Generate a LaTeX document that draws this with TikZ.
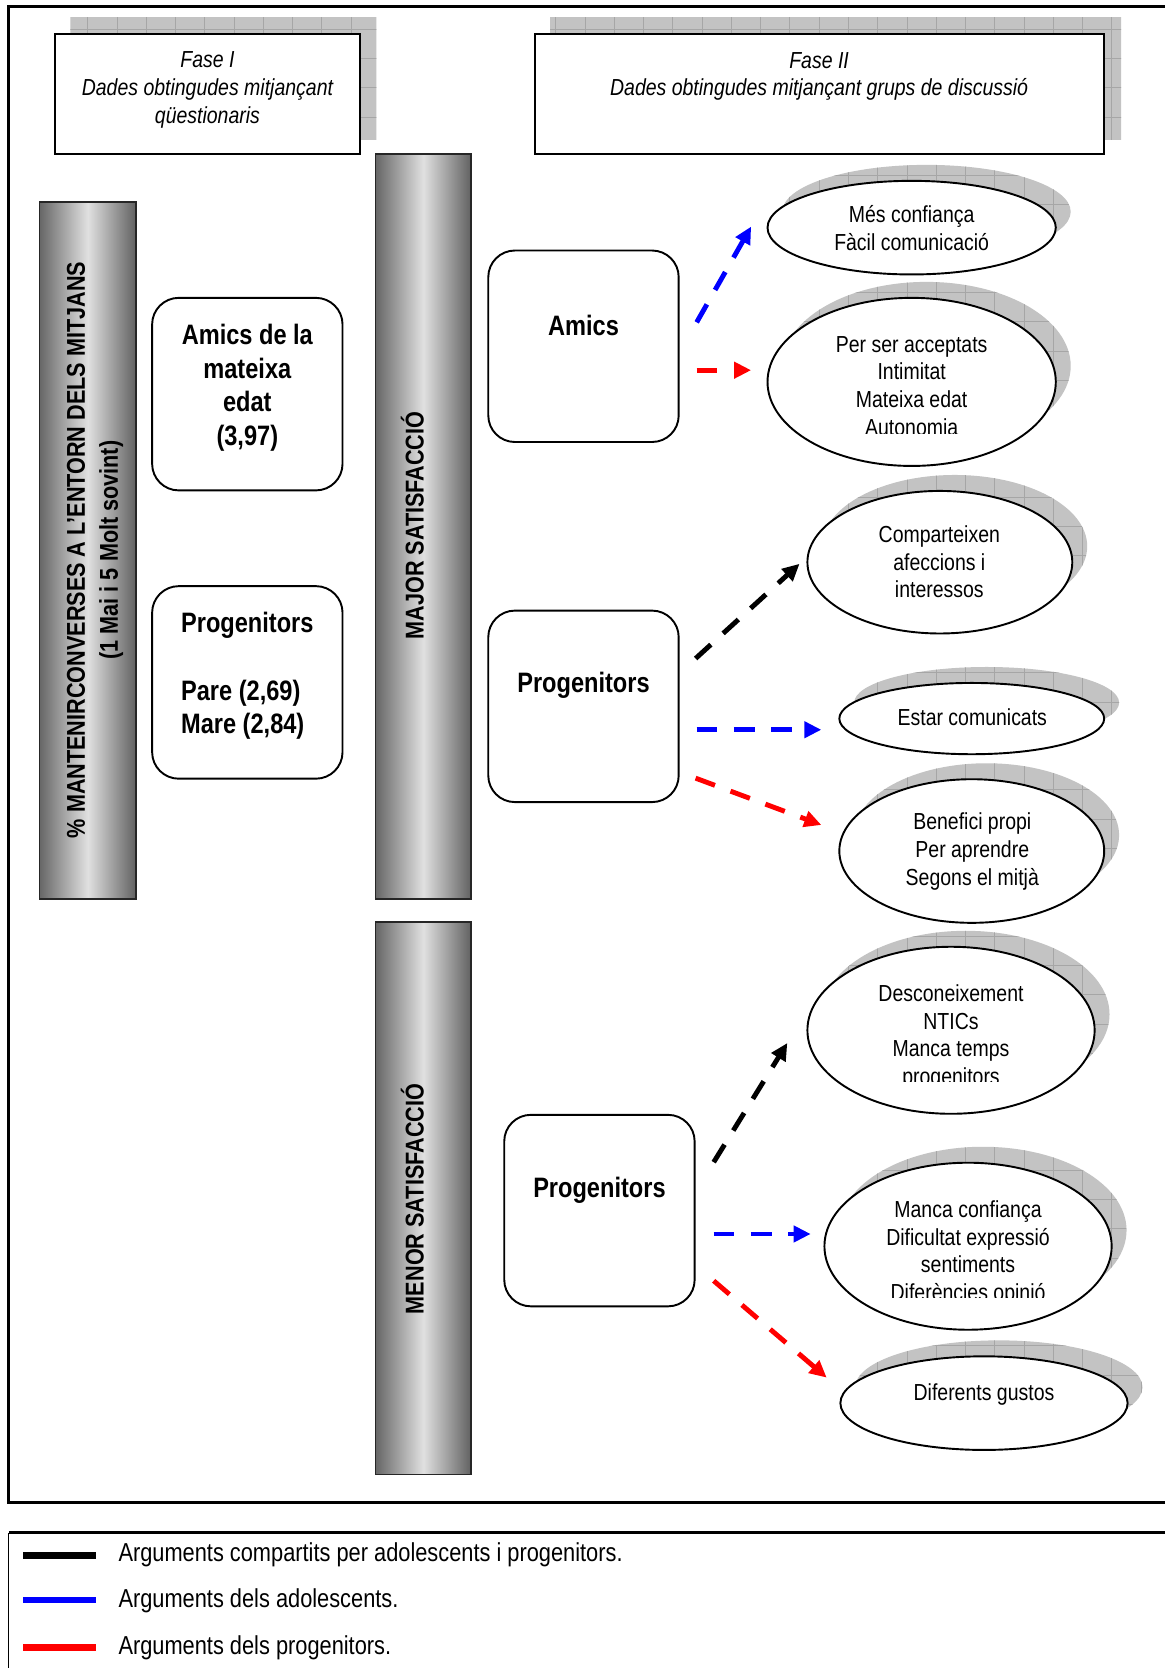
\documentclass[tikz,border=0pt]{standalone}
\usepackage{fontspec}
\setmainfont{Liberation Sans}[FakeStretch=0.84]
\usetikzlibrary{arrows.meta,calc,shapes.geometric,backgrounds}

% gray drop shadow with a faint grid texture, clipped to the given path
\newcommand\dropshadow[1]{%
  \begin{scope}
    \clip #1;
    \fill[gray!47] (0,1570) rectangle (1100,0);
    \draw[gray!70, line width=0.35pt, step=13.75pt] (0,1570) grid (1100,0);
  \end{scope}}

\tikzset{
  frameline/.style={line width=1.4pt},
  hdrbox/.style={draw, line width=0.9pt, fill=white, inner sep=0pt},
  rbox/.style={draw, line width=0.9pt, fill=white, rounded corners=12.5pt,
    inner sep=0pt, minimum width=89.5pt, minimum height=90pt},
  bar/.style={draw=black!85, line width=0.8pt, inner sep=0pt,
    left color=black!60, right color=black!62, middle color=black!12},
  ell/.style={ellipse, draw, line width=0.9pt, fill=white, inner sep=0pt},
  txt/.style={font=\fontsize{10.9pt}{13pt}\selectfont, align=center, inner sep=0pt,
    yshift=-2pt, execute at begin node=\strut, execute at end node=\strut},
  hdrtxt/.style={txt, font=\fontsize{10.9pt}{13pt}\selectfont\itshape},
  boldtxt/.style={txt, font=\fontsize{13.2pt}{15.8pt}\selectfont\bfseries},
  bartxt/.style={align=center, inner sep=0pt, rotate=90,
    execute at begin node=\strut, execute at end node=\strut,
    font=\fontsize{12.1pt}{15.5pt}\selectfont\bfseries},
  legtxt/.style={font=\fontsize{12.2pt}{14pt}\selectfont, inner sep=0pt, anchor=west},
  legline/.style={line width=3.2pt},
  arr/.style={line width=2.3pt, dash pattern=on 9.7pt off 7.8pt,
    -{Triangle[length=8pt,width=7.5pt]}},
}

\begin{document}
\begin{tikzpicture}[x=0.5pt, y=-0.5pt]
\useasboundingbox (0,0) rectangle (1095,1568);

% outer frames
\draw[frameline] (1097,6) -- (8,6) -- (8,1412) -- (1097,1412);
\draw[frameline] (1097,1441) -- (8,1441);
\draw[line width=0.7pt] (8,1441) -- (8,1570);

% phase headers
\node[hdrbox, minimum width=143pt, minimum height=56.5pt] (fase1) at (195,88.5) {};
\node[hdrbox, minimum width=267.5pt, minimum height=56.5pt] (fase2) at (770.5,88.5) {};
\node[hdrtxt] (fase1t) at (195,82.3) {Fase I\\Dades obtingudes mitjançant\\qüestionaris};
\node[hdrtxt] (fase2t) at (770,69.5) {Fase II\\Dades obtingudes mitjançant grups de discussió};

% shaded bars
\node[bar, minimum width=45.5pt, minimum height=327.5pt] (barL) at (82.5,517.5) {};
\node[bar, minimum width=45pt, minimum height=350pt] (barMaj) at (398,495) {};
\node[bar, minimum width=45pt, minimum height=259.5pt] (barMen) at (398,1126.5) {};
\node[bartxt] (barLt) at (91.5,517) {\% MANTENIRCONVERSES A L’ENTORN DELS MITJANS\\(1 Mai i 5 Molt sovint)};
\node[bartxt] (barMajt) at (392,494) {MAJOR SATISFACCIÓ};
\node[bartxt] (barMent) at (392,1127) {MENOR SATISFACCIÓ};

% rounded boxes
\node[rbox, minimum height=90.5pt] (amicsL) at (232.5,370.5) {};
\node[rbox, minimum height=90.5pt] (progL) at (232.5,641.5) {};
\node[rbox] (amicsR) at (548.5,325.5) {};
\node[rbox] (progR) at (548.5,664) {};
\node[rbox] (progM) at (563.5,1138) {};
\node[boldtxt] (amicsLt) at (232.5,362.5) {Amics de la\\mateixa\\edat\\(3,97)};
\node[boldtxt, align=left] (progLt) at (232.5,633.5) {Progenitors\\\strut\\Pare (2,69)\\Mare (2,84)};
\node[boldtxt] (amicsRt) at (548.5,305) {Amics};
\node[boldtxt] (progRt) at (548.5,641) {Progenitors};
\node[boldtxt] (progMt) at (563.5,1115) {Progenitors};

% ellipses
\node[ell, minimum width=135.5pt, minimum height=44pt] (e1) at (857,214) {};
\node[ell, minimum width=135.5pt, minimum height=79pt] (e2) at (857,359) {};
\node[ell, minimum width=124.5pt, minimum height=67pt] (e3) at (883.5,528.5) {};
\node[ell, minimum width=124.5pt, minimum height=33.5pt] (e4) at (913.5,675.5) {};
\node[ell, minimum width=124.5pt, minimum height=67.5pt] (e5) at (913.5,800) {};
\node[ell, minimum width=135pt, minimum height=78.5pt] (e6) at (894,968.5) {};
\node[ell, minimum width=135pt, minimum height=78.5pt] (e7) at (910,1171.5) {};
\node[ell, minimum width=135pt, minimum height=44pt] (e8) at (925,1319) {};

\node[txt] (e1t) at (857,214) {Més confiança\\Fàcil comunicació};
\begin{scope}
  \clip (725,285) rectangle (990,407.7);
  \node[txt] (e2t) at (857,362.5) {Per ser acceptats\\Intimitat\\Mateixa edat\\Autonomia};
\end{scope}
\node[txt] (e3t) at (883,528) {Comparteixen\\afeccions i\\interessos};
\node[txt] (e4t) at (914,673) {Estar comunicats};
\node[txt] (e5t) at (914,798) {Benefici propi\\Per aprendre\\Segons el mitjà};
\begin{scope}
  \clip (765,900) rectangle (1025,1017);
  \node[txt] (e6t) at (894,972.5) {Desconeixement\\NTICs\\Manca temps\\progenitors};
\end{scope}
\begin{scope}
  \clip (780,1100) rectangle (1040,1220);
  \node[txt] (e7t) at (910,1175.5) {Manca confiança\\Dificultat expressió\\sentiments\\Diferències opinió};
\end{scope}
\node[txt] (e8t) at (925,1307) {Diferents gustos};

% shadows behind headers and ellipses
\begin{scope}[on background layer]
  \fill[white] (0,0) rectangle (1095,1568);
  \dropshadow{($(fase1.south west)+(15,-15)$) rectangle ($(fase1.north east)+(15,-15)$)}
  \dropshadow{($(fase2.south west)+(15,-15)$) rectangle ($(fase2.north east)+(15,-15)$)}
  \dropshadow{($(e1)+(14,-15)$) ellipse [x radius=67.75pt, y radius=22pt]}
  \dropshadow{($(e2)+(14,-15)$) ellipse [x radius=67.75pt, y radius=39.5pt]}
  \dropshadow{($(e3)+(14,-15)$) ellipse [x radius=62.25pt, y radius=33.5pt]}
  \dropshadow{($(e4)+(14,-15)$) ellipse [x radius=62.25pt, y radius=16.75pt]}
  \dropshadow{($(e5)+(14,-15)$) ellipse [x radius=62.25pt, y radius=33.75pt]}
  \dropshadow{($(e6)+(14,-15)$) ellipse [x radius=67.5pt, y radius=39.25pt]}
  \dropshadow{($(e7)+(14,-15)$) ellipse [x radius=67.5pt, y radius=39.25pt]}
  \dropshadow{($(e8)+(14,-15)$) ellipse [x radius=67.5pt, y radius=22pt]}
\end{scope}

% connectors
\draw[arr, blue] ($(amicsR.east)+(16,-22.5)$) -- ($(e1.west)+(-14.5,-1)$);
\draw[arr, red]  ($(amicsR.east)+(16,22.5)$) -- ($(e2.west)+(-14.5,-11)$);
\draw[arr, black] ($(progR.east)+(15,-45)$) -- ($(e3.west)+(-6.5,1.5)$);
\draw[arr, blue] ($(progR.east)+(16,22)$) -- ($(e4.west)+(-16,10.5)$);
\draw[arr, red]  ($(progR.east)+(15,67.5)$) -- ($(e5.west)+(-16,-24.5)$);
\draw[arr, black] ($(progM.east)+(17,-45.5)$) -- ($(e6.west)+(-18,12)$);
\draw[arr, blue] ($(progM.east)+(17,22)$) -- ($(e7.west)+(-12,-11.5)$);
\draw[arr, red]  ($(progM.east)+(17,66)$) -- ($(e8.west)+(-12,-24)$);

% legend
\draw[legline, black] (22,1462) -- (90,1462);
\draw[legline, blue] (22,1504) -- (90,1504);
\draw[legline, red] (22,1549) -- (90,1549);
\node[legtxt] (leg1) at (111,1462) {Arguments compartits per adolescents i progenitors.};
\node[legtxt] (leg2) at (111,1505) {Arguments dels adolescents.};
\node[legtxt] (leg3) at (111,1549) {Arguments dels progenitors.};
\end{tikzpicture}
\end{document}
